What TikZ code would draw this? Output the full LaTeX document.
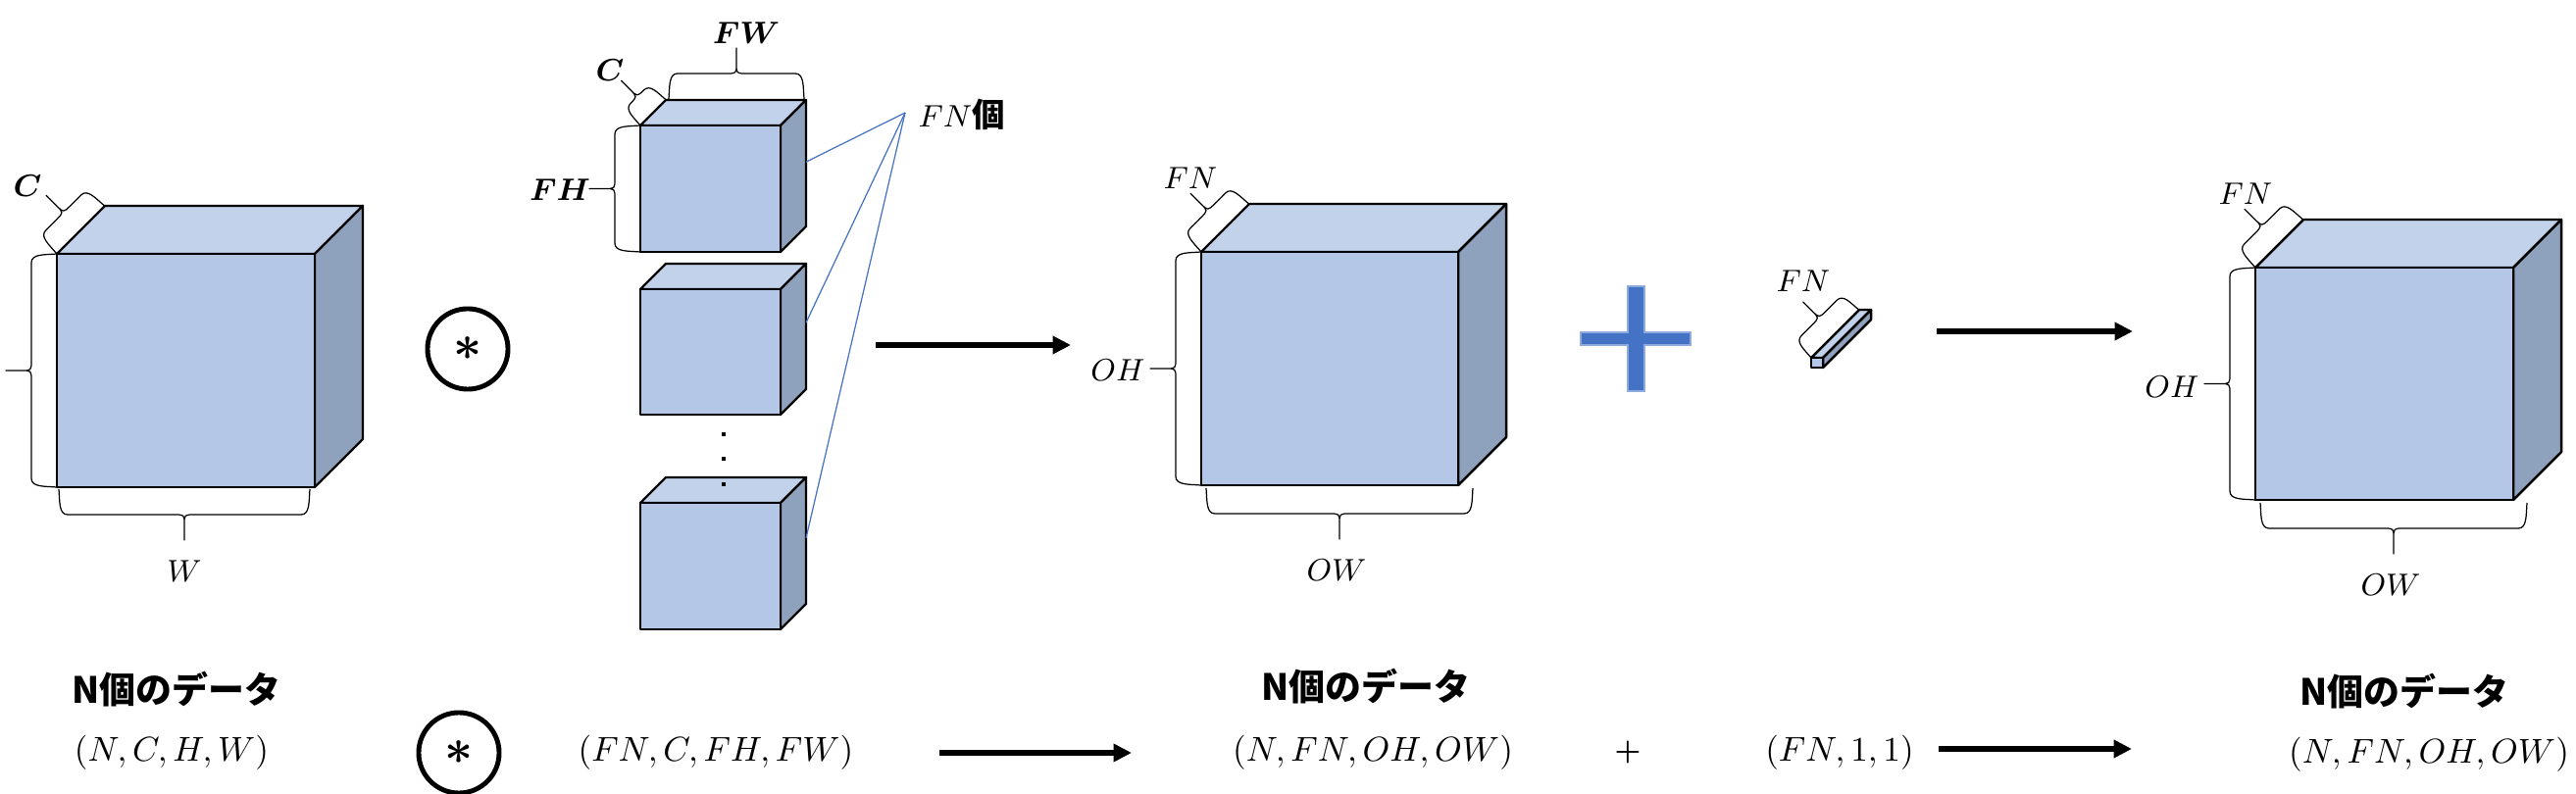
\documentclass[tikz,border=0pt]{standalone}
\usepackage{fontspec}
\usepackage{bm}
\usetikzlibrary{arrows.meta,calc,positioning}
\newfontfamily\jpfont{Noto Sans CJK JP}
\definecolor{facefront}{RGB}{180,199,231}
\definecolor{facetop}{RGB}{194,210,235}
\definecolor{faceside}{RGB}{143,162,189}
\definecolor{accentblue}{RGB}{68,114,196}
\definecolor{plusedge}{RGB}{143,170,220}

% cuboid: name, x, y (front top left), width, height, depth
\newcommand{\drawcuboid}[6]{%
  \coordinate (#1-tl) at (#2,#3);
  \coordinate (#1-tr) at ({#2+#4},#3);
  \coordinate (#1-bl) at (#2,{#3+#5});
  \coordinate (#1-br) at ({#2+#4},{#3+#5});
  \coordinate (#1-btl) at ({#2+#6},{#3-#6});
  \coordinate (#1-btr) at ({#2+#4+#6},{#3-#6});
  \coordinate (#1-bbr) at ({#2+#4+#6},{#3+#5-#6});
  \draw[topface] (#1-tl) -- (#1-btl) -- (#1-btr) -- (#1-tr) -- cycle;
  \draw[sideface] (#1-tr) -- (#1-btr) -- (#1-bbr) -- (#1-br) -- cycle;
  \draw[frontface] (#1-tl) rectangle (#1-br);
}

% brace: [amplitude]{start}{length}{angle}, bulges to the left of the direction
\newcommand{\dimbracket}[4][52]{%
  \draw[bracketline, shift={(#2)}, rotate=#4, x=0.01cm, y=0.01cm]
    (0,0) .. controls (1,{#1/4}) and (0,{#1/2}) .. (9,{#1/2})
    -- ({#3/2-10},{#1/2}) .. controls ({#3/2},{#1/2}) .. ({#3/2},{#1/2+10})
    -- ({#3/2},#1) -- ({#3/2},{#1/2+10})
    .. controls ({#3/2},{#1/2}) .. ({#3/2+10},{#1/2})
    -- ({#3-9},{#1/2}) .. controls (#3,{#1/2}) and ({#3-1},{#1/4}) .. (#3,0);
}

\tikzset{
  frontface/.style={fill=facefront, draw=black, line width=0.7pt, line join=round},
  topface/.style={fill=facetop, draw=black, line width=0.7pt, line join=round},
  sideface/.style={fill=faceside, draw=black, line width=0.7pt, line join=round},
  bracketline/.style={line width=0.35pt, line join=round},
  dimlabel/.style={font=\fontsize{9.5}{10}\selectfont, inner sep=1pt},
  tuplelabel/.style={font=\fontsize{10}{12}\selectfont, inner sep=0pt},
  datalabel/.style={font=\jpfont\bfseries\fontsize{10.5}{12}\selectfont, inner sep=0pt},
  opcircle/.style={circle, draw, line width=1.4pt, minimum size=0.82cm, inner sep=0pt, font=\fontsize{14}{14}\selectfont},
  flow/.style={line width=1.7pt, -{Triangle[length=5.2pt,width=5pt]}},
  fnline/.style={draw=accentblue, line width=0.35pt},
}

\begin{document}
\begin{tikzpicture}[x=0.01cm, y=-0.01cm]
	\useasboundingbox (0,0) rectangle (2627,810);

	% input data
	\drawcuboid{in}{58}{259}{263}{238}{49}
	\dimbracket[50]{in-tl}{69}{45}
	\dimbracket{in-bl}{238}{90}
	\dimbracket{$(in-br)+(-5,2)$}{256}{180}
	\node[dimlabel] (inc) at (28,190) {$\bm{C}$};
	\node[dimlabel] (inw) at (188,583) {$W$};

	\node[opcircle] (conv) at (477,356) {$\bm{\ast}$};

	% filters
	\drawcuboid{fa}{653}{128}{143}{129}{26}
	\drawcuboid{fb}{653}{295}{143}{128}{26}
	\drawcuboid{fc}{653}{513}{143}{129}{26}
	\foreach \y in {441,466,492}
		\fill (736,\y) rectangle +(4,4);
	\dimbracket[46]{fa-tl}{37}{45}
	\dimbracket{$(fa-btl)+(3,-1)$}{138}{0}
	\dimbracket{fa-bl}{129}{90}
	\node[dimlabel] (fac) at (622,72) {$\bm{C}$};
	\node[dimlabel] (faw) at (761,34) {$\bm{FW}$};
	\node[dimlabel] (fah) at (571,194) {$\bm{FH}$};

	\coordinate (fa-side) at ($(fa-btr)!0.49!(fa-bbr)$);
	\coordinate (fb-side) at ($(fb-btr)!0.47!(fb-bbr)$);
	\coordinate (fc-side) at ($(fc-btr)!0.48!(fc-bbr)$);
	\coordinate (apex) at (923,115);
	\node[dimlabel, anchor=west, inner sep=0pt] (fncount) at (936,117) {$FN${\jpfont\bfseries 個}};
	\foreach \f in {fa,fb,fc}
		\draw[fnline] (apex) -- (\f-side);

	\coordinate (a1s) at (893,352);
	\coordinate (a1e) at (1092,352);
	\draw[flow] (a1s) -- (a1e);

	% convolution output
	\drawcuboid{out}{1225}{257}{262}{238}{49}
	\dimbracket[50]{out-tl}{69}{45}
	\dimbracket{out-bl}{238}{90}
	\dimbracket{$(out-br)+(15,3)$}{272}{180}
	\node[dimlabel] (outfn) at (1214,182) {$FN$};
	\node[dimlabel] (outoh) at (1140,378) {$OH$};
	\node[dimlabel] (outow) at (1363,582) {$OW$};

	% plus
	\filldraw[fill=accentblue, draw=plusedge, line width=0.3pt]
		(1660,292) -- (1677,292) -- (1677,339) -- (1724,339) -- (1724,352) -- (1677,352)
		-- (1677,399) -- (1660,399) -- (1660,352) -- (1612,352) -- (1612,339) -- (1660,339) -- cycle;

	% bias
	\drawcuboid{bias}{1847}{365}{12}{10}{49}
	\dimbracket[46]{bias-tl}{69}{45}
	\node[dimlabel] (biasfn) at (1839,287) {$FN$};

	\coordinate (a2s) at (1975,338);
	\coordinate (a2e) at (2175,338);
	\draw[flow] (a2s) -- (a2e);

	% result
	\drawcuboid{res}{2300}{273}{263}{237}{49}
	\dimbracket[50]{res-tl}{69}{45}
	\dimbracket{res-bl}{237}{90}
	\dimbracket{$(res-br)+(14,3)$}{272}{180}
	\node[dimlabel] (resfn) at (2290,198) {$FN$};
	\node[dimlabel] (resoh) at (2215,395) {$OH$};
	\node[dimlabel] (resow) at (2438,597) {$OW$};

	% shapes row
	\node[datalabel] (din) at (180,703) {N個のデータ};
	\node[tuplelabel] (tin) at (175,768) {$(N,C,H,W)$};
	\node[opcircle] (convb) at (468,768) {$\bm{\ast}$};
	\node[tuplelabel] (tfilter) at (730,768) {$(FN,C,FH,FW)$};
	\coordinate (a3s) at (958,768);
	\coordinate (a3e) at (1154,768);
	\draw[flow] (a3s) -- (a3e);
	\node[datalabel] (dout) at (1393,700) {N個のデータ};
	\node[tuplelabel] (tout) at (1400,768) {$(N,FN,OH,OW)$};
	\node[font=\fontsize{8}{8}\selectfont, inner sep=0pt] (plusb) at (1660,767) {$\bm{+}$};
	\node[tuplelabel] (tbias) at (1876,768) {$(FN,1,1)$};
	\coordinate (a4s) at (1977,764);
	\coordinate (a4e) at (2174,764);
	\draw[flow] (a4s) -- (a4e);
	\node[datalabel] (dres) at (2452,705) {N個のデータ};
	\node[tuplelabel] (tres) at (2477,770) {$(N,FN,OH,OW)$};
\end{tikzpicture}
\end{document}
